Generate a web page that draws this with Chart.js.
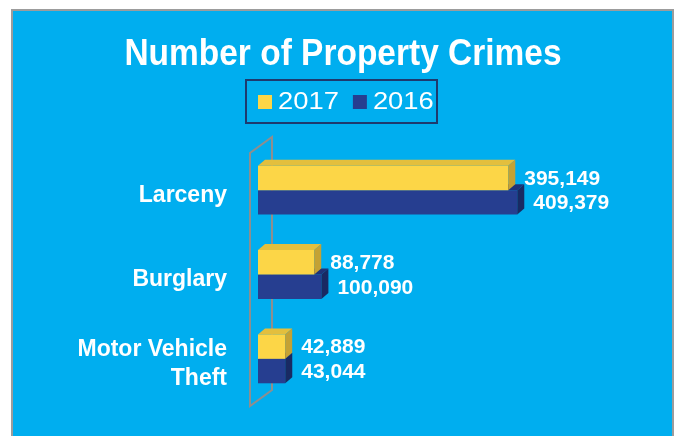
<!DOCTYPE html>
<html>
<head>
<meta charset="utf-8">
<script src="https://cdn.jsdelivr.net/npm/chart.js@4.4.0/dist/chart.umd.min.js"></script>
<style>
  html, body { margin: 0; padding: 0; background: #fff; }
  #wrap { width: 679px; height: 436px; }
</style>
</head>
<body>
<div id="wrap"><canvas id="chart" width="679" height="436"></canvas></div>
<script>
const titleText = 'Number of Property Crimes';
const categories = ['Larceny', 'Burglary', ['Motor Vehicle', 'Theft']];
const seriesNames = ['2017', '2016'];
const values2017 = [395149, 88778, 42889];
const values2016 = [409379, 100090, 43044];

const colors = {
    '2017': { front: '#FCD647', top: '#E3BF3D', side: '#C4A234' },
    '2016': { front: '#263E90', top: '#1F3378', side: '#192A63' }
};

const fmt = v => v.toLocaleString('en-US');
const DX = 7, DY = 6;

// background panel, title and legend
const panelPlugin = {
    id: 'panel',
    beforeDraw(chart) {
        const ctx = chart.ctx;
        ctx.save();
        ctx.fillStyle = '#fff';
        ctx.fillRect(0, 0, chart.width, chart.height);
        ctx.fillStyle = '#9C9C9C';
        ctx.fillRect(11, 9, 663, chart.height);
        ctx.fillStyle = '#00AEEF';
        ctx.fillRect(13, 11, 659, chart.height);

        // title
        ctx.fillStyle = '#fff';
        ctx.font = 'bold 36px "Liberation Sans", Arial, sans-serif';
        ctx.textBaseline = 'alphabetic';
        ctx.textAlign = 'center';
        ctx.save();
        ctx.translate(343, 65);
        ctx.scale(0.93, 1);
        ctx.fillText(titleText, 0, 0);
        ctx.restore();

        // legend
        ctx.strokeStyle = '#1E3A6E';
        ctx.lineWidth = 2;
        ctx.strokeRect(246, 80, 191, 43);
        ctx.font = '23px "Liberation Sans", Arial, sans-serif';
        ctx.textAlign = 'left';
        let x = 258;
        chart.data.datasets.forEach(ds => {
            ctx.fillStyle = colors[ds.label].front;
            ctx.fillRect(x, 95, 14, 14);
            x += 20;
            ctx.fillStyle = '#fff';
            ctx.save();
            ctx.translate(x, 109);
            ctx.scale(1.19, 1);
            ctx.fillText(ds.label, 0, 0);
            ctx.restore();
            x += ctx.measureText(ds.label).width * 1.19 + 14;
        });
        ctx.restore();
    },
    beforeDatasetsDraw(chart) {
        // 3d wall outline
        const ctx = chart.ctx;
        const a = chart.chartArea;
        const fx = a.left - 8, bx = a.left + 14;
        ctx.save();
        ctx.strokeStyle = '#8E8E8E';
        ctx.lineWidth = 2;
        ctx.beginPath();
        ctx.moveTo(bx, a.top - 11);
        ctx.lineTo(bx, a.bottom - 11);
        ctx.lineTo(fx, a.bottom + 5);
        ctx.lineTo(fx, a.top + 5);
        ctx.closePath();
        ctx.stroke();
        ctx.restore();
    },
    afterDatasetDraw(chart, args) {
        // top and side faces of the bars
        const ctx = chart.ctx;
        const c = colors[chart.data.datasets[args.index].label];
        ctx.save();
        args.meta.data.forEach(bar => {
            const p = bar.getProps(['x', 'y', 'base', 'height'], true);
            const t = p.y - p.height / 2, b = p.y + p.height / 2;
            ctx.fillStyle = c.top;
            ctx.beginPath();
            ctx.moveTo(p.base, t);
            ctx.lineTo(p.base + DX, t - DY);
            ctx.lineTo(p.x + DX, t - DY);
            ctx.lineTo(p.x, t);
            ctx.closePath();
            ctx.fill();
            ctx.fillStyle = c.side;
            ctx.beginPath();
            ctx.moveTo(p.x, t);
            ctx.lineTo(p.x + DX, t - DY);
            ctx.lineTo(p.x + DX, b - DY);
            ctx.lineTo(p.x, b);
            ctx.closePath();
            ctx.fill();
        });
        ctx.restore();
    },
    afterDatasetsDraw(chart) {
        const ctx = chart.ctx;
        ctx.save();
        ctx.fillStyle = '#fff';
        ctx.font = 'bold 21px "Liberation Sans", Arial, sans-serif';
        ctx.textBaseline = 'middle';
        ctx.textAlign = 'left';
        chart.data.datasets.forEach((ds, i) => {
            chart.getDatasetMeta(i).data.forEach((bar, j) => {
                ctx.fillText(fmt(ds.data[j]), bar.x + 16, bar.y + 1);
            });
        });
        ctx.restore();
    }
};

new Chart(document.getElementById('chart').getContext('2d'), {
    type: 'bar',
    data: {
        labels: categories,
        datasets: [{
            label: seriesNames[0],
            data: values2017,
            backgroundColor: colors['2017'].front
        }, {
            label: seriesNames[1],
            data: values2016,
            backgroundColor: colors['2016'].front
        }]
    },
    options: {
        indexAxis: 'y',
        responsive: false,
        animation: false,
        devicePixelRatio: 1,
        categoryPercentage: 0.58,
        barPercentage: 1,
        layout: { padding: { top: 148, right: 41, bottom: 35, left: 0 } },
        scales: {
            x: { display: false, min: 0, max: 600000 },
            y: {
                grid: { display: false, drawTicks: false },
                border: { display: false },
                ticks: {
                    color: '#fff',
                    padding: 31,
                    labelOffset: 5,
                    font: { family: '"Liberation Sans", Arial, sans-serif', size: 23, weight: 'bold', lineHeight: 1.27 }
                },
                afterFit(scale) {
                    scale.width = 258;
                    scale.paddingTop = 0;
                    scale.paddingBottom = 0;
                }
            }
        },
        plugins: {
            legend: { display: false },
            title: { display: false },
            tooltip: { enabled: false }
        }
    },
    plugins: [panelPlugin]
});
</script>
</body>
</html>
